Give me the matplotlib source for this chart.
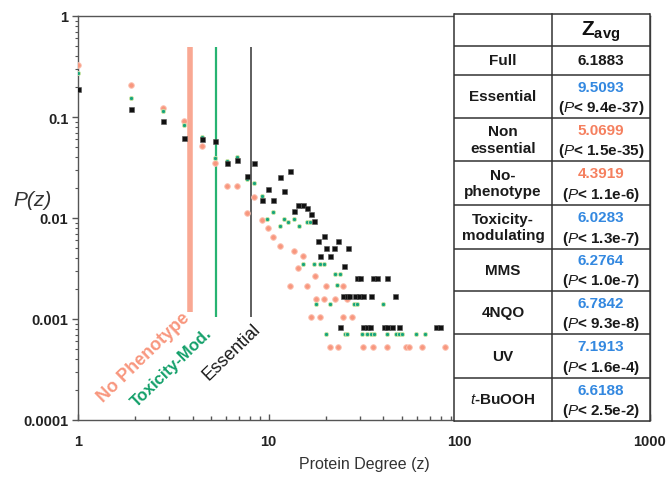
import matplotlib
matplotlib.use("Agg")
import matplotlib.pyplot as plt
from matplotlib.patches import Rectangle

plt.rcParams["font.family"] = ["Liberation Sans", "DejaVu Sans"]
plt.rcParams["mathtext.fontset"] = "custom"
plt.rcParams["mathtext.rm"] = "Liberation Sans:bold"
plt.rcParams["mathtext.it"] = "Liberation Sans:italic"
plt.rcParams["mathtext.bf"] = "Liberation Sans:bold"

# ---- degree distributions P(z) ----
essential_z = [1.0, 1.89, 2.79, 3.59, 4.46, 5.21, 6.03, 6.80, 7.67, 8.35, 9.19, 9.88,
               10.6, 11.4, 12.1, 12.9, 13.5, 14.2, 15.1, 15.8, 16.6, 17.2, 18.1, 19.4,
               23.0, 18.7, 20.1, 20.9, 21.9, 26.2, 24.7, 28.9, 30.3, 35.1, 36.8, 41.5,
               24.4, 25.6, 26.5, 28.2, 29.6, 31.1, 34.6, 46.2, 23.8, 31.1, 32.6, 33.8,
               40.5, 42.0, 44.6, 48.5, 75.8, 79.6]
essential_p = [0.189, 0.120, 0.0913, 0.0619, 0.0606, 0.0578, 0.0351, 0.0375, 0.0261,
               0.0351, 0.0151, 0.0194, 0.0151, 0.0255, 0.0185, 0.0292, 0.0117, 0.0135,
               0.0135, 0.0126, 0.0110, 0.00933, 0.00592, 0.00664, 0.00592, 0.00421,
               0.00505, 0.00421, 0.00505, 0.00505, 0.00335, 0.00255, 0.00255, 0.00255,
               0.00255, 0.00255, 0.00169, 0.00169, 0.00169, 0.00169, 0.00169, 0.00169,
               0.00169, 0.00169, 0.000834, 0.000834, 0.000834, 0.000834, 0.000834,
               0.000834, 0.000834, 0.000834, 0.000834, 0.000834]

toxmod_z = [1.0, 1.89, 2.79, 3.59, 4.46, 5.21, 6.03, 6.80, 7.67, 8.35, 9.19, 9.77,
            10.6, 11.4, 12.1, 12.7, 13.5, 14.4, 15.8, 16.4, 15.1, 17.2, 18.7, 19.4,
            22.2, 23.8, 22.7, 17.8, 20.9, 27.9, 29.2, 40.0, 20.1, 25.0, 25.9, 30.7,
            32.6, 34.6, 35.5, 41.5, 46.8, 48.5, 50.3, 59.6, 66.4]
toxmod_p = [0.273, 0.154, 0.115, 0.0833, 0.0634, 0.0393, 0.0367, 0.0402, 0.0243,
            0.0222, 0.0165, 0.00977, 0.0115, 0.00834, 0.00977, 0.00913, 0.00977,
            0.00834, 0.00913, 0.00913, 0.00351, 0.00351, 0.00351, 0.00351, 0.00279,
            0.00279, 0.00217, 0.00141, 0.00141, 0.00141, 0.00141, 0.00141, 0.00071,
            0.00071, 0.00071, 0.00071, 0.00071, 0.00071, 0.00071, 0.00071, 0.00071,
            0.00071, 0.00071, 0.00071, 0.00071]

nopheno_z = [1.0, 1.89, 2.79, 3.59, 4.46, 5.21, 6.03, 6.80, 7.67, 8.35, 9.19, 9.88,
             10.6, 11.4, 13.5, 15.1, 14.2, 17.4, 12.9, 15.8, 20.1, 24.4, 17.8, 19.4,
             22.2, 25.6, 16.6, 18.7, 24.4, 27.2, 21.1, 23.2, 31.1, 35.1, 42.0, 52.8,
             54.7, 64.0, 84.5]
nopheno_p = [0.327, 0.207, 0.123, 0.0913, 0.0516, 0.0351, 0.0207, 0.0207, 0.0112,
             0.0161, 0.00955, 0.00796, 0.00649, 0.00528, 0.00471, 0.00421, 0.00320,
             0.00267, 0.00212, 0.00212, 0.00212, 0.00212, 0.00158, 0.00158, 0.00158,
             0.00158, 0.00105, 0.00105, 0.00105, 0.00105, 0.000528, 0.000528,
             0.000528, 0.000528, 0.000528, 0.000528, 0.000528, 0.000528, 0.000528]

# average-degree markers for each gene class
marker_names = ["No Phenotype", "Toxicity-Mod.", "Essential"]
marker_z = [3.88, 5.28, 8.05]
marker_top = [0.49, 0.49, 0.49]
marker_bottom = [0.00117, 0.00105, 0.00105]

# ---- summary table ----
table_header = "Z$_\\mathrm{avg}$"
row_labels = ["Full", "Essential", "Non\nessential", "No-\nphenotype",
              "Toxicity-\nmodulating", "MMS", "4NQO", "UV", "$\\it{t}$-BuOOH"]
z_avg = ["6.1883", "9.5093", "5.0699", "4.3919", "6.0283", "6.2764", "6.7842",
         "7.1913", "6.6188"]
p_values = [None, "9.4e-37", "1.5e-35", "1.1e-6", "1.3e-7", "1.0e-7", "9.3e-8",
            "1.6e-4", "2.5e-2"]
z_colors = ["#1a1a1a", "#3388e0", "#f5805f", "#f5805f", "#3388e0", "#3388e0",
            "#3388e0", "#3388e0", "#3388e0"]

x_ticks = [1, 10, 100, 1000]
x_ticklabels = ["1", "10", "100", "1000"]
y_ticks = [1e-4, 1e-3, 1e-2, 1e-1, 1]
y_ticklabels = ["0.0001", "0.001", "0.01", "0.1", "1"]

SALMON = "#f8977e"
GREEN = "#16a57c"
GREEN_LINE = "#27b371"
DARK = "#333333"

W, H = 668, 481
fig = plt.figure(figsize=(W / 100, H / 100), dpi=100)
ax = fig.add_axes([78 / W, 1 - 421 / H, 572 / W, 404 / H])
ax.set_xscale("log")
ax.set_yscale("log")
ax.set_xlim(1, 1000)
ax.set_ylim(1e-4, 1)

# threshold lines
ax.vlines(marker_z[0], marker_bottom[0], marker_top[0], color="#f9a893", lw=4.0, zorder=1)
ax.vlines(marker_z[1], marker_bottom[1], marker_top[1], color=GREEN_LINE, lw=1.6, zorder=1)
ax.vlines(marker_z[2], marker_bottom[2], marker_top[2], color=DARK, lw=1.1, zorder=1)

# distributions
ax.plot(nopheno_z, nopheno_p, ls="none", marker="o", ms=4.0, mfc=SALMON,
        mec="#fcc3b3", mew=0.7, zorder=3)
ax.plot(toxmod_z, toxmod_p, ls="none", marker="o", ms=3.0, mfc=GREEN,
        mec="#d3e6a8", mew=0.6, zorder=4)
ax.plot(essential_z, essential_p, ls="none", marker="s", ms=3.6, mfc="#111111",
        mec="#555555", mew=0.4, zorder=5)

# axes styling
for side in ["left", "bottom", "top", "right"]:
    ax.spines[side].set_color("#555555")
    ax.spines[side].set_linewidth(1.0)
ax.set_xticks(x_ticks)
ax.set_xticklabels(x_ticklabels)
ax.set_yticks(y_ticks)
ax.set_yticklabels(y_ticklabels)
ax.tick_params(axis="x", which="major", direction="in", length=4, width=1,
               color="#555555", pad=10, labelsize=10.5, labelcolor="#222222")
ax.tick_params(axis="x", which="minor", direction="in", length=3, width=1,
               color="#555555")
ax.tick_params(axis="y", which="major", direction="out", length=4, width=1,
               color="#555555", pad=3, labelsize=10.5, labelcolor="#222222")
ax.tick_params(axis="y", which="minor", direction="out", length=2.5, width=0.8,
               color="#555555")
for lab in ax.get_xticklabels() + ax.get_yticklabels():
    lab.set_fontweight("bold")

fig.text(33 / W, 1 - 200 / H, "P(z)", fontsize=15, style="italic",
         color="#333333", ha="center", va="center")
fig.text(364 / W, 1 - 465 / H, "Protein Degree (z)", fontsize=11.5,
         color="#333333", ha="center", va="center")

# rotated class labels
label_specs = [
    (144, 358, SALMON, "bold", 13),
    (172, 368, "#14a06a", "bold", 12),
    (232, 352, "#1a1a1a", "normal", 13),
]
for name, (cx, cy, col, wt, fs) in zip(marker_names, label_specs):
    fig.text(cx / W, 1 - cy / H, name, color=col, fontweight=wt, fontsize=fs,
             rotation=44, rotation_mode="anchor", ha="center", va="center")

# summary table drawn on its own axes over the right end of the plot
tx0, tx1, ty0, ty1 = 454, 650, 15, 422
tax = fig.add_axes([tx0 / W, 1 - ty1 / H, (tx1 - tx0) / W, (ty1 - ty0) / H])
tax.set_xlim(0, 2)
row_heights = [32, 29, 43, 43, 44, 44, 42, 43, 44, 43]
edges = [0]
for h in row_heights:
    edges.append(edges[-1] + h)
tax.set_ylim(edges[-1], 0)
tax.axis("off")
tax.add_patch(Rectangle((0, 0), 2, edges[-1], facecolor="white", edgecolor="none"))
for e in edges:
    tax.plot([0, 2], [e, e], color="#333333", lw=1.1, solid_capstyle="butt", clip_on=False)
for xv in [0, 1, 2]:
    tax.plot([xv, xv], [0, edges[-1]], color="#333333", lw=1.1, clip_on=False)

tax.text(1.5, row_heights[0] / 2 + 1, table_header, fontsize=15, fontweight="bold",
         ha="center", va="center", color="#111111")
for i, (lab, zv, pv, zc) in enumerate(zip(row_labels, z_avg, p_values, z_colors)):
    top, bot = edges[i + 1], edges[i + 2]
    mid = (top + bot) / 2
    tax.text(0.5, mid, lab, fontsize=11, fontweight="bold", ha="center",
             va="center", color="#1a1a1a", linespacing=1.2)
    if pv is None:
        tax.text(1.5, mid, zv, fontsize=11, fontweight="bold", ha="center",
                 va="center", color=zc)
    else:
        tax.text(1.5, top + (bot - top) * 0.27, zv, fontsize=11, fontweight="bold",
                 ha="center", va="center", color=zc)
        tax.text(1.5, top + (bot - top) * 0.74, "($\\it{P}$< " + pv + ")", fontsize=11,
                 fontweight="bold", ha="center", va="center", color="#1a1a1a")

fig.savefig("out.png", dpi=100)
